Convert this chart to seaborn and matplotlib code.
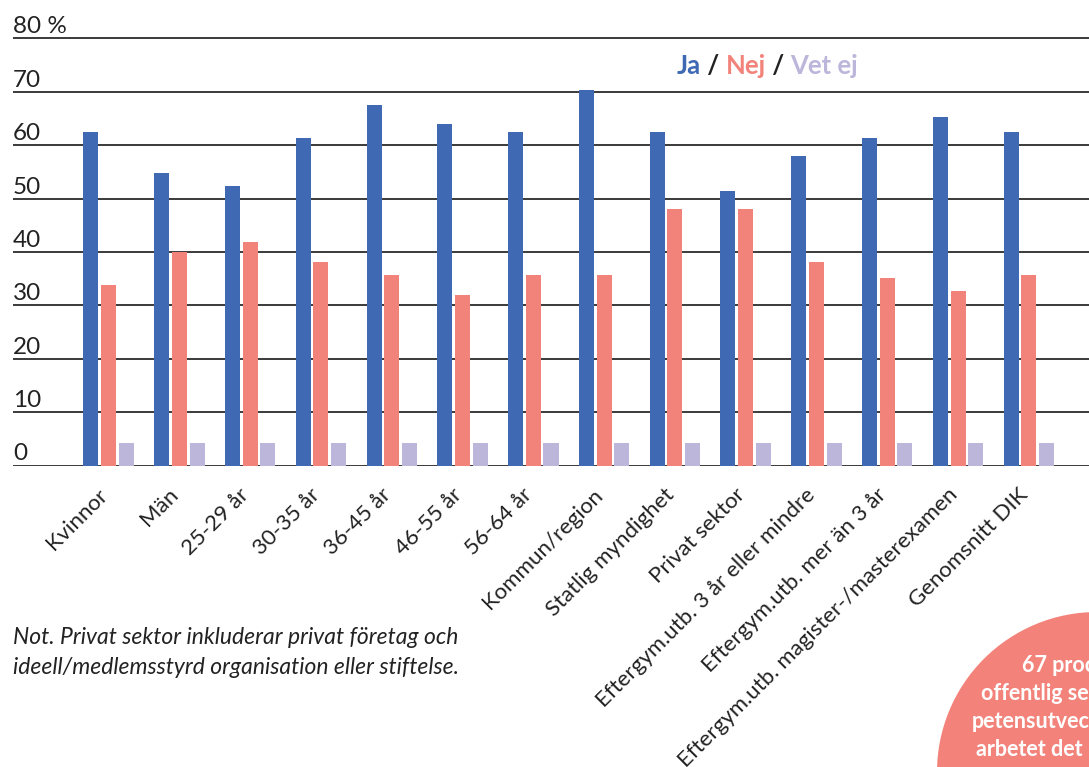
import pandas as pd
import seaborn as sns
import matplotlib.pyplot as plt
import matplotlib.transforms as mtransforms
from matplotlib.patches import Circle

# Data (procent)
grupper = ["Kvinnor", "Män", "25-29 år", "30-35 år", "36-45 år", "46-55 år", "56-64 år",
           "Kommun/region", "Statlig myndighet", "Privat sektor",
           "Eftergym.utb. 3 år eller mindre", "Eftergym.utb. mer än 3 år",
           "Eftergym.utb. magister-/masterexamen", "Genomsnitt DIK"]
ja = [62.5, 54.8, 52.4, 61.4, 67.5, 64.0, 62.5, 70.3, 62.5, 51.4, 58.0, 61.4, 65.3, 62.5]
nej = [33.8, 40.0, 41.9, 38.1, 35.7, 31.9, 35.7, 35.7, 48.0, 48.0, 38.1, 35.1, 32.7, 35.7]
vet_ej = [4.3, 4.3, 4.3, 4.3, 4.3, 4.3, 4.3, 4.3, 4.3, 4.3, 4.3, 4.3, 4.3, 4.3]
svar = ["Ja", "Nej", "Vet ej"]
y_ticks = [0, 10, 20, 30, 40, 50, 60, 70, 80]
y_labels = ["0", "10", "20", "30", "40", "50", "60", "70", "80 %"]

farger = {"Ja": "#3F69B3", "Nej": "#F2837A", "Vet ej": "#BBB6DA"}

df = pd.DataFrame({
    "grupp": grupper * 3,
    "svar": ["Ja"] * len(ja) + ["Nej"] * len(nej) + ["Vet ej"] * len(vet_ej),
    "andel": ja + nej + vet_ej,
})

sns.set_theme(style="white")
plt.rcParams["font.family"] = ["Lato", "DejaVu Sans"]

W, H = 1089, 767
fig = plt.figure(figsize=(W / 100, H / 100), dpi=100)
ax = fig.add_axes([13 / W, (H - 465.5) / H, 1 - 13 / W, 81 * 5.34 / H])

sns.barplot(data=df, x="grupp", y="andel", hue="svar", hue_order=svar,
            palette=farger, width=0.75, gap=0.15, saturation=1,
            linewidth=0, legend=False, ax=ax)

ax.set_xlim(-1.35, 13.85)
ax.set_ylim(0, 81)
for v in y_ticks:
    ax.axhline(v, color="#3a3a3a", lw=1.4, zorder=0)
ax.set_axisbelow(True)
sns.despine(ax=ax, left=True, bottom=True)
ax.set_xlabel("")
ax.set_ylabel("")
ax.set_yticks([])

# y-etiketter ovanför linjerna
trans = mtransforms.offset_copy(ax.get_yaxis_transform(), fig=fig, y=5, units="dots")
for v, lab in zip(y_ticks, y_labels):
    ax.text(0, v, lab, transform=trans, ha="left", va="baseline",
            fontsize=17.5, color="#222222")

ax.set_xticks(range(len(grupper)))
ax.set_xticklabels(grupper, rotation=45, ha="right", va="center",
                   rotation_mode="anchor", fontsize=16, color="#222222")
ax.tick_params(axis="x", length=0, pad=19)
skift = mtransforms.ScaledTranslation(-4 / 100, 0, fig.dpi_scale_trans)
for lab in ax.get_xticklabels():
    lab.set_transform(lab.get_transform() + skift)

# Legend som färgad text
renderer = fig.canvas.get_renderer()
x = 677
delar = [("Ja", farger["Ja"]), (" / ", "#222222"), ("Nej", farger["Nej"]),
         (" / ", "#222222"), ("Vet ej", farger["Vet ej"])]
for s, c in delar:
    t = fig.text(x / W, 1 - 74 / H, s, color=c, fontsize=18.5, fontweight="bold",
                 ha="left", va="baseline")
    x = t.get_window_extent(renderer).x1

# Not
fig.text(13 / W, 1 - 637 / H, "Not. Privat sektor inkluderar privat företag och",
         style="italic", fontsize=16.5, color="#222222", va="center")
fig.text(13 / W, 1 - 668 / H, "ideell/medlemsstyrd organisation eller stiftelse.",
         style="italic", fontsize=16.5, color="#222222", va="center")

# Cirkel nere till höger
fig.add_artist(Circle((10.97, (H - 772) / 100), 1.60, transform=fig.dpi_scale_trans,
                      color="#F3837A", lw=0))
for xs, ys, s in [(1022, 665, "67 procent"), (981, 693, "offentlig sektor"),
                  (972, 722, "petensutveckling"), (976, 749, "arbetet det")]:
    fig.text(xs / W, 1 - ys / H, s, color="white", fontsize=15.5, fontweight="bold",
             ha="left", va="center")

fig.savefig("out.png", dpi=100)
